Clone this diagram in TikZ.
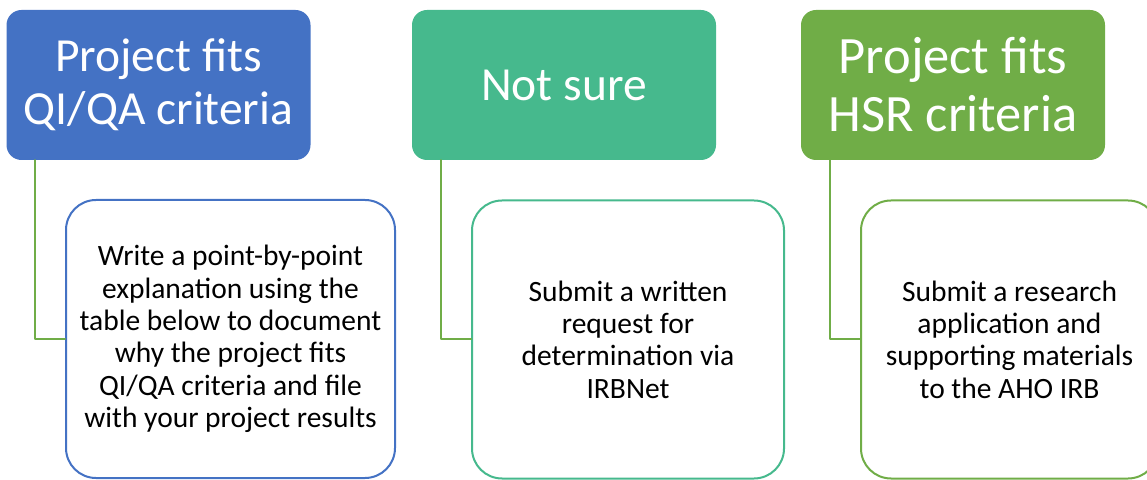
\documentclass[tikz,border=0pt]{standalone}
\usepackage{fontspec}
\setmainfont{Carlito}
\usepackage{tikz}
\usetikzlibrary{calc}
\definecolor{qiblue}{RGB}{68,114,196}
\definecolor{unsureteal}{RGB}{70,185,141}
\definecolor{hsrgreen}{RGB}{112,173,71}
\tikzstyle{head}=[rectangle,rounded corners=15pt,inner sep=0pt,minimum height=150pt,minimum width=304pt,text=white,align=center,font=\fontsize{47.5}{53}\selectfont]
\tikzstyle{task}=[rectangle,rounded corners=30pt,draw,line width=2pt,fill=white,inner sep=0pt,minimum height=278pt,text=black,align=center,font=\fontsize{29.5}{32.3}\selectfont]
\tikzstyle{link}=[line width=2pt,color=hsrgreen]

\begin{document}
\begin{tikzpicture}[line cap=round,line join=round,x=1pt,y=1pt]
            \useasboundingbox (0,0) rectangle (1147,479);
            \clip (0,0) rectangle (1147,479);
            % top row
            \node[head,fill=qiblue] (qihead) at (158.5,394) {Project fits\\QI/QA criteria};
            \node[head,fill=unsureteal] (unsurehead) at (564,394) {Not sure};
            \node[head,fill=hsrgreen,font=\fontsize{52.5}{58}\selectfont] (hsrhead) at (953,394) {Project fits\\HSR criteria};
            % what to do
            \node[task,draw=qiblue,minimum width=329pt] (qitask) at (230.5,140) {Write a point-by-point\\explanation using the\\table below to document\\why the project fits\\QI/QA criteria and file\\with your project results};
            \node[task,draw=unsureteal,minimum width=312pt] (unsuretask) at (628,139.5) {Submit a written\\request for\\determination via\\IRBNet};
            \node[task,draw=hsrgreen,minimum width=297pt] (hsrtask) at (1009.5,139.5) {Submit a research\\application and\\supporting materials\\to the AHO IRB};
            % links
            \draw[link] ([xshift=29pt]qihead.south west) |- (qitask.west);
            \draw[link] ([xshift=29pt]unsurehead.south west) |- (unsuretask.west);
            \draw[link] ([xshift=29pt]hsrhead.south west) |- (hsrtask.west);
\end{tikzpicture}
\end{document}
